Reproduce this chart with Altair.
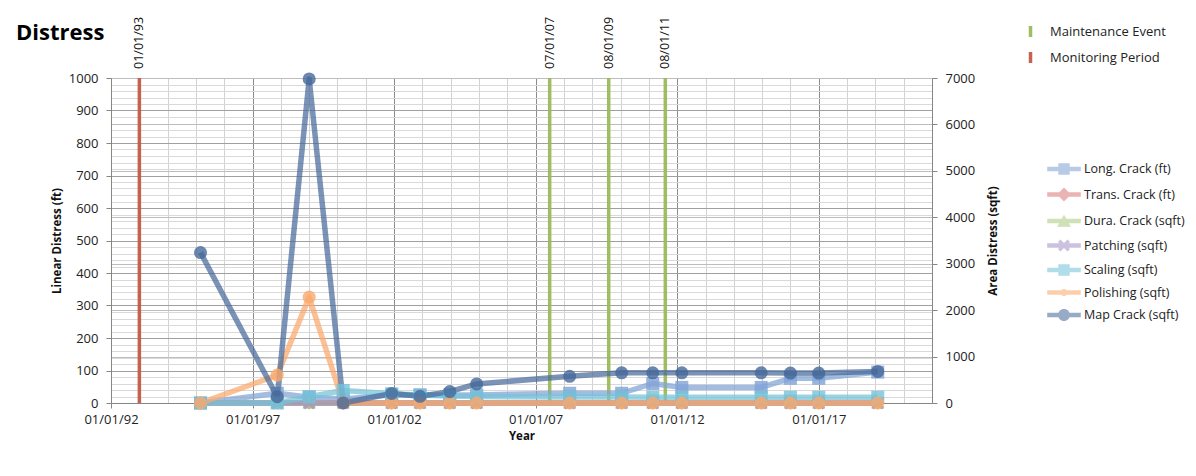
import altair as alt
import pandas as pd

# ---------------- data ----------------
survey_dates = ["1995-03-01", "1997-11-15", "1999-01-01", "2000-03-15", "2001-12-01", "2002-12-01",
                "2003-12-20", "2004-12-01", "2008-03-15", "2010-01-15", "2011-02-20", "2012-03-01",
                "2014-12-20", "2016-01-01", "2017-01-01", "2019-02-01"]

long_crack = [0, 30, 18, 12, 25, 25, 25, 25, 30, 30, 60, 48, 48, 76, 76, 95]
trans_crack = [0, 0, 0, 0, 0, 0, 0, 0, 0, 0, 0, 0, 0, 0, 0, 0]
dura_crack = [0, 0, 0, 0, 0, 0, 0, 0, 0, 0, 0, 0, 0, 0, 0, 0]
patching = [0, 0, 0, 0, 0, 0, 0, 0, 0, 0, 0, 0, 0, 0, 0, 0]
scaling = [0, 0, 135, 270, 200, 170, 150, 140, 130, 130, 125, 125, 125, 125, 125, 125]
polishing = [0, 600, 2280, 0, 0, 0, 0, 0, 0, 0, 0, 0, 0, 0, 0, 0]
map_crack = [3240, 135, 6980, 0, 205, 145, 245, 410, 575, 650, 650, 650, 650, 645, 645, 680]

series_names = ["Long. Crack (ft)", "Trans. Crack (ft)", "Dura. Crack (sqft)", "Patching (sqft)",
                "Scaling (sqft)", "Polishing (sqft)", "Map Crack (sqft)"]
series_values = [long_crack, trans_crack, dura_crack, patching, scaling, polishing, map_crack]
linear_series = ["Long. Crack (ft)", "Trans. Crack (ft)"]
series_colors = ["#7FA3D6", "#D9787A", "#A9C97D", "#A492C6", "#74C2D8", "#F9A96C", "#46699A"]

event_dates = ["1993-01-01", "2007-07-01", "2009-08-01", "2011-08-01"]
event_labels = ["01/01/93", "07/01/07", "08/01/09", "08/01/11"]
event_types = ["Monitoring Period", "Maintenance Event", "Maintenance Event", "Maintenance Event"]
event_type_names = ["Maintenance Event", "Monitoring Period"]
event_colors = ["#9BBB59", "#C45A47"]

x_start, x_end = "1992-01-01", "2021-01-01"
year_ticks = list(range(1992, 2022))
left_ticks = list(range(0, 1001, 20))
right_ticks = [0, 1000, 2000, 3000, 4000, 5000, 6000, 7000]

# ---------------- tables ----------------
rows = []
for name, vals in zip(series_names, series_values):
    for d, v in zip(survey_dates, vals):
        rows.append({"date": d, "series": name, "value": v,
                     "axis": "linear" if name in linear_series else "area"})
df = pd.DataFrame(rows)
ev = pd.DataFrame({"date": event_dates, "label": event_labels, "type": event_types})


def ms(s):
    return int(pd.Timestamp(s, tz="UTC").timestamp() * 1000)


FONT = "Open Sans"
major_x = "utcyear(datum.value) % 5 == 2"

x_axis = alt.Axis(
    values=[ms(f"{y}-01-01") for y in year_ticks],
    labelExpr=f"{major_x} ? utcFormat(datum.value, '%m/%d/%y') : ''",
    labelOverlap=False, labelFlush=False,
    grid=True,
    gridColor={"condition": {"test": major_x, "value": "#8c8c8c"}, "value": "#d2d2d2"},
    gridWidth=1,
    tickColor={"condition": {"test": major_x, "value": "#868686"}, "value": "transparent"},
    tickSize=5, domainColor="#868686",
    labelPadding=5, labelFontSize=13, labelFont=FONT, labelColor="#222222",
    title="Year", titleFont=FONT, titleFontSize=11.5, titleFontWeight="bold",
    titleColor="#111111", titlePadding=4,
)
x_scale = alt.Scale(type="utc", domain=[ms(x_start), ms(x_end)], nice=False)
x_enc = alt.X("date:T", scale=x_scale, axis=x_axis)

major_y = "datum.value % 100 == 0"
y_left = alt.Y(
    "value:Q",
    scale=alt.Scale(domain=[0, 1000], nice=False),
    axis=alt.Axis(
        orient="left", values=left_ticks,
        labelExpr=f"{major_y} ? datum.value : ''",
        labelOverlap=False, labelFlush=False,
        grid=True,
        gridColor={"condition": {"test": major_y, "value": "#a0a0a0"}, "value": "#d9d9d9"},
        tickColor={"condition": {"test": major_y, "value": "#868686"}, "value": "transparent"},
        tickSize=5, domainColor="#868686",
        labelPadding=8, labelFontSize=13, labelFont=FONT, labelColor="#222222",
        title="Linear Distress (ft)", titleFont=FONT, titleFontSize=11.5,
        titleFontWeight="bold", titleColor="#111111", titlePadding=6,
    ),
)
y_right = alt.Y(
    "value:Q",
    scale=alt.Scale(domain=[0, 7000], nice=False),
    axis=alt.Axis(
        orient="right", values=right_ticks, labelFlush=False, format="d",
        grid=True, gridColor="#bdbdbd",
        tickSize=5, tickColor="#868686", domainColor="#868686",
        labelPadding=8, labelFontSize=13, labelFont=FONT, labelColor="#222222",
        title="Area Distress (sqft)", titleFont=FONT, titleFontSize=11.5,
        titleFontWeight="bold", titleColor="#111111", titlePadding=24, titleAngle=270,
    ),
)

# plotting colour scale (domain listed in reverse so it never merges with the legend's scales)
color_enc = alt.Color("series:N",
                      scale=alt.Scale(domain=series_names[::-1], range=series_colors[::-1]),
                      legend=None)
plain_shapes = ["square", "diamond", "triangle-up",
                "M-1,-0.6L-0.6,-1L0,-0.4L0.6,-1L1,-0.6L0.4,0L1,0.6L0.6,1L0,0.4L-0.6,1L-1,0.6L-0.4,0Z",
                "square", "circle", "circle"]


def series_layer(names, y):
    data = df[df["series"].isin(names)]
    layers = [alt.Chart(data).mark_line(strokeWidth=5.5, opacity=0.72, strokeJoin="round").encode(
        x=x_enc, y=y, color=color_enc, detail="series:N")]
    for name in names:
        shp = plain_shapes[series_names.index(name)]
        layers.append(
            alt.Chart(df[df["series"] == name]).mark_point(filled=True, size=170, opacity=0.8, shape=shp)
            .encode(x=x_enc, y=y, color=color_enc))
    return alt.layer(*layers)


left_layer = series_layer(linear_series, y_left)
right_layer = series_layer([s for s in series_names if s not in linear_series], y_right)

# event rules + labels
rules = alt.Chart(ev).mark_rule(strokeWidth=3.5, opacity=0.95).encode(
    x=x_enc,
    stroke=alt.Stroke("type:N", scale=alt.Scale(domain=event_type_names, range=event_colors),
                      legend=alt.Legend(title=None, orient="none", legendX=912, legendY=-54,
                                        symbolType="M0,-1V1", symbolSize=121, symbolStrokeWidth=3.5,
                                        labelFont=FONT, labelFontSize=13, labelColor="#222222",
                                        labelOffset=12, rowPadding=1, padding=0)),
)
ev_text = alt.Chart(ev).mark_text(angle=270, align="left", baseline="middle",
                                  font=FONT, fontSize=12.5, color="#111111").encode(
    x=x_enc, y=alt.value(-9), text="label:N")

title = alt.Chart(pd.DataFrame({"t": ["Distress"]})).mark_text(
    align="left", baseline="middle", font=FONT, fontSize=22, fontWeight="bold", color="#000000"
).encode(x=alt.value(-95), y=alt.value(-45), text="t:N")

# legend carrier (no rows drawn)
bar = "M-2.8,-0.38H2.8V0.38H-2.8Z"
legend_shapes = [
    bar + "M-0.95,-0.95H0.95V0.95H-0.95Z",
    bar + "M0,-1.15L1.15,0L0,1.15L-1.15,0Z",
    bar + "M0,-1.05L1.15,0.95H-1.15Z",
    bar + "M-1,-0.6L-0.6,-1L0,-0.4L0.6,-1L1,-0.6L0.4,0L1,0.6L0.6,1L0,0.4L-0.6,1L-1,0.6L-0.4,0Z",
    bar + "M-0.95,-0.95H0.95V0.95H-0.95Z",
    bar + "M-0.6,0A0.6,0.6 0 1,1 0.6,0A0.6,0.6 0 1,1 -0.6,0Z",
    bar + "M-1,0A1,1 0 1,1 1,0A1,1 0 1,1 -1,0Z",
]
series_legend = alt.Legend(title=None, orient="none", legendX=946, legendY=84,
                           symbolSize=144, labelFont=FONT, labelFontSize=12.5, labelColor="#222222",
                           labelOffset=13, rowPadding=6.5, padding=0)
legend_layer = alt.Chart(df).transform_filter("false").mark_point(filled=True, opacity=0.75).encode(
    x=x_enc,
    fill=alt.Fill("series:N", scale=alt.Scale(domain=series_names, range=series_colors), legend=series_legend),
    shape=alt.Shape("series:N", scale=alt.Scale(domain=series_names, range=legend_shapes), legend=series_legend),
)

chart = alt.layer(rules, ev_text, title, left_layer, right_layer, legend_layer).resolve_scale(
    y="independent"
).properties(
    width=821, height=325,
    autosize=alt.AutoSizeParams(type="none"),
    padding={"left": 103, "top": 70, "right": 256, "bottom": 50},
    background="white",
).configure_view(stroke=None)

chart.save("out.html", embed_options={"renderer": "svg", "actions": False})
